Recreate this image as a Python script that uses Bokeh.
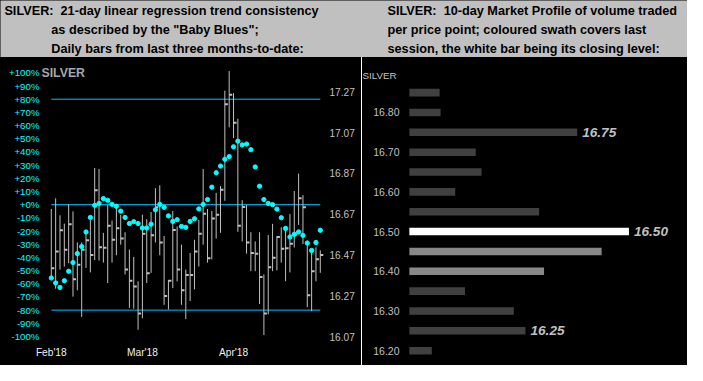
from bokeh.plotting import figure
from bokeh.models import (Range1d, LinearAxis, FixedTicker, Label, NumeralTickFormatter,
                          ColumnDataSource, Title, Spacer)
from bokeh.layouts import column, row
from bokeh.embed import file_html
from bokeh.resources import INLINE
from bokeh.core.properties import value

# ---------------- data ----------------
day = list(range(63))
highs = [16.696, 16.748, 16.665, 16.624, 16.720, 16.684, 16.532, 16.532, 16.587, 16.643,
         16.897, 16.892, 16.579, 16.715, 16.639, 16.717, 16.668, 16.582, 16.497, 16.461,
         16.341, 16.668, 16.646, 16.681, 16.798, 16.812, 16.563, 16.348, 16.686, 16.610,
         16.521, 16.399, 16.480, 16.545, 16.642, 16.892, 16.696, 16.686, 16.775, 16.808,
         17.276, 17.372, 17.264, 17.138, 16.739, 16.715, 16.582, 16.537, 16.582, 16.375,
         16.568, 16.623, 16.563, 16.606, 16.606, 16.671, 16.784, 16.869, 16.764, 16.540,
         16.493, 16.508, 16.493]
lows = [16.352, 16.305, 16.399, 16.414, 16.430, 16.266, 16.297, 16.167, 16.407, 16.385,
        16.446, 16.443, 16.433, 16.333, 16.433, 16.469, 16.521, 16.375, 16.211, 16.207,
        16.104, 16.160, 16.333, 16.383, 16.532, 16.469, 16.226, 16.203, 16.308, 16.341,
        16.226, 16.156, 16.245, 16.302, 16.414, 16.521, 16.433, 16.449, 16.551, 16.579,
        16.736, 17.096, 17.044, 16.584, 16.537, 16.477, 16.391, 16.391, 16.230, 16.078,
        16.179, 16.391, 16.395, 16.433, 16.342, 16.385, 16.507, 16.618, 16.524, 16.215,
        16.195, 16.341, 16.383]
closes = [16.405, 16.487, 16.592, 16.496, 16.621, 16.352, 16.422, 16.496, 16.543, 16.470,
          16.788, 16.508, 16.506, 16.614, 16.545, 16.602, 16.551, 16.399, 16.344, 16.316,
          16.183, 16.574, 16.381, 16.567, 16.704, 16.532, 16.269, 16.344, 16.593, 16.399,
          16.297, 16.372, 16.372, 16.488, 16.574, 16.673, 16.454, 16.649, 16.668, 16.790,
          17.209, 17.256, 17.119, 16.614, 16.706, 16.532, 16.480, 16.477, 16.363, 16.184,
          16.410, 16.457, 16.559, 16.501, 16.504, 16.526, 16.571, 16.748, 16.704, 16.273,
          16.391, 16.450, 16.470]
trend = [-55.6, -59.4, -62.8, -57.7, -50.5, -43.9, -37.1, -31.8, -20.7, -9.7,
         -0.5, 0.9, 4.6, 3.3, 0.2, -1.2, -4.9, -9.7, -14.3, -12.9,
         -14.3, -17.7, -17.7, -14.8, -3.9, 0.2, -2.0, -8.5, -12.7, -11.4,
         -16.5, -17.2, -12.7, -10.7, -3.2, 0.2, 3.9, 13.3, 24.2, 29.3,
         34.4, 36.5, 43.9, 48.2, 45.3, 46.0, 41.7, 28.6, 14.0, 3.9,
         0.9, 0.0, -3.4, -9.9, -18.0, -24.5, -22.5, -20.7, -23.3, -29.1,
         -34.7, -28.7, -19.4]
month_ticks = [0, 21, 42]
month_labels = ["Feb'18", "Mar'18", "Apr'18"]
pct_ticks = [100, 90, 80, 70, 60, 50, 40, 30, 20, 10, 0,
             -10, -20, -30, -40, -50, -60, -70, -80, -90, -100]
pct_labels = ["+100%", "+90%", "+80%", "+70%", "+60%", "+50%", "+40%", "+30%", "+20%", "+10%", "+0%",
              "-10%", "-20%", "-30%", "-40%", "-50%", "-60%", "-70%", "-80%", "-90%", "-100%"]
price_ticks = [17.27, 17.07, 16.87, 16.67, 16.47, 16.27, 16.07]
trend_levels = [80, 0, -80]

profile_levels = [16.85, 16.80, 16.75, 16.70, 16.65, 16.60, 16.55,
                  16.50, 16.45, 16.40, 16.35, 16.30, 16.25, 16.20]
profile_volume = [31, 32, 172, 68, 74, 47, 133, 225, 197, 138, 57, 107, 119, 23]
profile_ticks = [16.20, 16.30, 16.40, 16.50, 16.60, 16.70, 16.80]
last_close = 16.50
session_low, session_high = 16.40, 16.50
callout_levels = [16.75, 16.50, 16.25]

NB = "\u00a0"
left_title = ["SILVER:" + NB + " 21-day linear regression trend consistency",
              "as described by the \"Baby Blues\";",
              "Daily bars from last three months-to-date:"]
right_title = ["SILVER:" + NB + " 10-day Market Profile of volume traded",
               "per price point; coloured swath covers last",
               "session, the white bar being its closing level:"]

# ---------------- styling ----------------
FONT = "Liberation Sans"
BLACK = "#000000"
CYAN = "#00ffff"
LINE_CYAN = "#00bfff"
GREY = "#c0c0c0"

TOTAL_W, TOTAL_H = 687, 365
HEAD_H = 57
PANEL_H = TOTAL_H - HEAD_H
LEFT_W = 361
RIGHT_W = TOTAL_W - LEFT_W - 1


def plain(fig):
    fig.outline_line_color = None
    for g in fig.xgrid + fig.ygrid:
        g.visible = False
    return fig


# ---------------- header ----------------
head = plain(figure(width=TOTAL_W, height=HEAD_H, output_backend="svg", toolbar_location=None,
                    x_range=Range1d(0, 703), y_range=Range1d(59, 0),
                    x_axis_location=None, y_axis_location=None, min_border=0,
                    background_fill_color=GREY, border_fill_color=GREY))
for k, (txt, xpos) in enumerate(zip(left_title, [4, 52, 52])):
    head.add_layout(Label(x=xpos, y=11 + 19.7 * k, text=txt, text_font=FONT,
                          text_font_style="bold", text_font_size="12.7px",
                          text_color=BLACK, text_baseline="middle"))
for k, txt in enumerate(right_title):
    head.add_layout(Label(x=396, y=11 + 19.7 * k, text=txt, text_font=FONT,
                          text_font_style="bold", text_font_size="12.7px",
                          text_color=BLACK, text_baseline="middle"))

# ---------------- left panel ----------------
left = plain(figure(width=LEFT_W, height=PANEL_H, output_backend="svg", toolbar_location=None,
                    x_range=Range1d(-2.26, 63.2), y_range=Range1d(-103.8, 107.85),
                    min_border_left=41, min_border_right=36, min_border_top=5, min_border_bottom=24,
                    background_fill_color=BLACK, border_fill_color=None))
left.extra_y_ranges = {"price": Range1d(16.0463, 17.414)}

xa = left.xaxis[0]
xa.ticker = FixedTicker(ticks=month_ticks)
xa.major_label_overrides = dict(zip(month_ticks, month_labels))
ya = left.yaxis[0]
ya.ticker = FixedTicker(ticks=pct_ticks)
ya.major_label_overrides = dict(zip(pct_ticks, pct_labels))
pa = LinearAxis(y_range_name="price", ticker=FixedTicker(ticks=price_ticks),
                formatter=NumeralTickFormatter(format="0.00"))
left.add_layout(pa, "right")

for ax, col, size, standoff in [(xa, "#f0f0f0", "10.2px", 5), (ya, CYAN, "9.7px", 2), (pa, GREY, "10.1px", 4)]:
    ax.axis_line_color = None
    ax.major_tick_line_color = None
    ax.minor_tick_line_color = None
    ax.major_tick_out = 0
    ax.major_tick_in = 0
    ax.major_label_text_color = col
    ax.major_label_text_font = FONT
    ax.major_label_text_font_size = size
    ax.major_label_standoff = standoff

# trend reference lines
left.segment(x0=day[0], x1=day[-1], y0=trend_levels, y1=trend_levels, line_color=LINE_CYAN, line_width=1)

# daily bars
src = ColumnDataSource(dict(day=day, high=highs, low=lows, close=closes, trend=trend))
left.segment(x0="day", x1="day", y0="low", y1="high", source=src, y_range_name="price",
             line_color=GREY, line_width=1)
left.ray(x="day", y="close", length=3, length_units="screen", angle=0, source=src,
         y_range_name="price", line_color=GREY, line_width=2)
left.scatter(x="day", y="trend", source=src, size=4.3, marker="circle",
             fill_color=CYAN, line_color=CYAN)

left.add_layout(Label(x=left.x_range.start, y=pct_ticks[0], text="SILVER", text_font=FONT,
                      text_font_style="bold", text_font_size="12.3px", text_color="#a8a8a8",
                      text_baseline="middle"))

# ---------------- right panel ----------------
right = plain(figure(width=RIGHT_W, height=PANEL_H, output_backend="svg", toolbar_location=None,
                     x_range=Range1d(-6, 285), y_range=Range1d(16.1627, 16.878),
                     x_axis_location=None,
                     min_border_left=41, min_border_right=0, min_border_top=24, min_border_bottom=0,
                     background_fill_color=BLACK, border_fill_color=None))
right.add_layout(Title(text="SILVER", align="left", offset=-41, standoff=2,
                       text_font=FONT, text_font_size="9.8px", text_font_style="normal",
                       text_color=GREY), "above")
ra = right.yaxis[0]
ra.ticker = FixedTicker(ticks=profile_ticks)
ra.formatter = NumeralTickFormatter(format="0.00")
ra.axis_line_color = None
ra.major_tick_line_color = None
ra.minor_tick_line_color = None
ra.major_tick_out = 0
ra.major_tick_in = 0
ra.major_label_text_color = GREY
ra.major_label_text_font = FONT
ra.major_label_text_font_size = "10.5px"
ra.major_label_standoff = 4

bar_colors = []
for lv in profile_levels:
    if abs(lv - last_close) < 1e-9:
        bar_colors.append("#ffffff")
    elif session_low - 1e-9 <= lv <= session_high + 1e-9:
        bar_colors.append("#888888")
    else:
        bar_colors.append("#404040")
right.hbar(y=profile_levels, left=0, right=profile_volume, height=0.019,
           fill_color=bar_colors, line_color=None)

vol_of = dict(zip(profile_levels, profile_volume))
call_src = ColumnDataSource(dict(x=[vol_of[l] for l in callout_levels], y=callout_levels,
                                 t=["%.2f" % l for l in callout_levels]))
right.text(x="x", y="y", text="t", source=call_src, x_offset=5, text_baseline="middle",
           text_align="left", text_font=value(FONT), text_font_style="bold italic",
           text_font_size="13.6px", text_color=GREY)

sep = Spacer(width=1, height=PANEL_H, styles={"background-color": "#ffffff"})
panels = row(column(left), sep, column(right), spacing=0, styles={"background-color": "#000000"})
page = column(head, panels, spacing=0, styles={"background-color": "#000000"})

open("out.html", "w").write(file_html(page, INLINE))
